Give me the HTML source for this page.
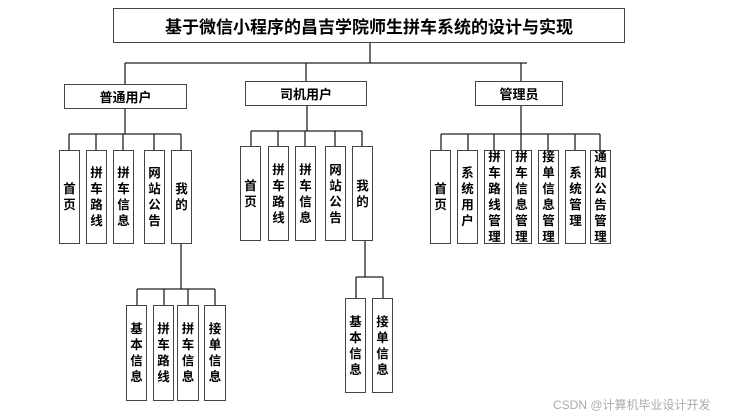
<!DOCTYPE html>
<html><head><meta charset="utf-8"><style>
body{margin:0;width:729px;height:418px;background:#fff;position:relative;overflow:hidden;font-family:"Liberation Sans","Noto Sans CJK SC",sans-serif}
.b{position:absolute;border:1.5px solid #444;box-sizing:border-box;background:#fff;display:flex;align-items:center;justify-content:center;font-weight:bold;color:#000}
.v{font-size:12.5px;line-height:16px;text-align:center;width:13px;word-break:break-all}
svg{position:absolute;left:0;top:0}
</style></head><body>
<svg width="729" height="418"><g stroke="#222" stroke-width="1.3" fill="none">
<path d="M370 43V63M125 63H527M125 63V84M306 63V81M521 63V81"/>
<path d="M125 108V134M69 134H181M69 134V150M96 134V150M123 134V150M154 134V150M181 134V150"/>
<path d="M307 106V131M251 131H362M251 131V146M278 131V146M305 131V146M335 131V146M362 131V146"/>
<path d="M521 106V134M441 134H600M441 134V150M468 134V150M494 134V150M521 134V150M548 134V150M575 134V150M600 134V150"/>
<path d="M181 244V289M137 289H215M137 289V305M164 289V305M188 289V305M215 289V305"/>
<path d="M365 241V277M356 277H383M356 277V298M383 277V298"/>
</g></svg>
<div class="b" style="left:113px;top:8px;width:512px;height:35px;font-size:17px">基于微信小程序的昌吉学院师生拼车系统的设计与实现</div>
<div class="b" style="left:64px;top:84px;width:123px;height:25px;font-size:13px">普通用户</div>
<div class="b" style="left:245px;top:81px;width:122px;height:25px;font-size:13px">司机用户</div>
<div class="b" style="left:475px;top:81px;width:88px;height:25px;font-size:13px">管理员</div>

<div class="b" style="left:59px;top:150px;width:21px;height:94px"><div class="v">首页</div></div>
<div class="b" style="left:86px;top:150px;width:21px;height:94px"><div class="v">拼车路线</div></div>
<div class="b" style="left:113px;top:150px;width:21px;height:94px"><div class="v">拼车信息</div></div>
<div class="b" style="left:144px;top:150px;width:21px;height:94px"><div class="v">网站公告</div></div>
<div class="b" style="left:171px;top:150px;width:21px;height:94px"><div class="v">我的</div></div>

<div class="b" style="left:240px;top:146px;width:21px;height:95px"><div class="v">首页</div></div>
<div class="b" style="left:268px;top:146px;width:21px;height:95px"><div class="v">拼车路线</div></div>
<div class="b" style="left:295px;top:146px;width:21px;height:95px"><div class="v">拼车信息</div></div>
<div class="b" style="left:325px;top:146px;width:21px;height:95px"><div class="v">网站公告</div></div>
<div class="b" style="left:352px;top:146px;width:21px;height:95px"><div class="v">我的</div></div>

<div class="b" style="left:430px;top:150px;width:21px;height:94px"><div class="v">首页</div></div>
<div class="b" style="left:457px;top:150px;width:21px;height:94px"><div class="v">系统用户</div></div>
<div class="b" style="left:484px;top:150px;width:21px;height:94px;align-items:flex-start"><div class="v" style="margin-top:-2px">拼车路线管理</div></div>
<div class="b" style="left:511px;top:150px;width:21px;height:94px;align-items:flex-start"><div class="v" style="margin-top:-2px">拼车信息管理</div></div>
<div class="b" style="left:538px;top:150px;width:21px;height:94px;align-items:flex-start"><div class="v" style="margin-top:-2px">接单信息管理</div></div>
<div class="b" style="left:565px;top:150px;width:21px;height:94px"><div class="v">系统管理</div></div>
<div class="b" style="left:590px;top:150px;width:21px;height:94px;align-items:flex-start"><div class="v" style="margin-top:-2px">通知公告管理</div></div>

<div class="b" style="left:126px;top:305px;width:21px;height:96px"><div class="v">基本信息</div></div>
<div class="b" style="left:153px;top:305px;width:21px;height:96px"><div class="v">拼车路线</div></div>
<div class="b" style="left:177px;top:305px;width:22px;height:96px"><div class="v">拼车信息</div></div>
<div class="b" style="left:204px;top:305px;width:22px;height:96px"><div class="v">接单信息</div></div>

<div class="b" style="left:345px;top:298px;width:21px;height:95px"><div class="v">基本信息</div></div>
<div class="b" style="left:372px;top:298px;width:21px;height:95px"><div class="v">接单信息</div></div>

<div style="position:absolute;left:553px;top:396px;font-size:12px;color:#aaa;white-space:nowrap">CSDN @计算机毕业设计开发</div>
</body></html>
